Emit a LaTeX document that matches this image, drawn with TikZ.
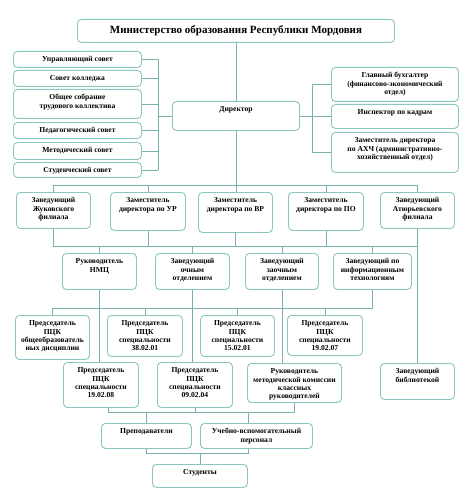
\documentclass[tikz,border=0pt]{standalone}
\usepackage{fontspec}
\setmainfont{Liberation Serif}
\definecolor{boxc}{RGB}{140,198,192}
\definecolor{linec}{RGB}{120,178,172}
\tikzset{
  box/.style={draw=boxc, line width=0.9pt, rounded corners=4pt, fill=white, inner sep=0pt},
  txt/.style={font=\fontsize{7.6}{8.4}\selectfont\bfseries, align=center, inner sep=0pt, text=black},
  conn/.style={draw=linec, line width=0.85pt},
}
\newcommand\mybox[6]{%
  \pgfmathsetmacro\bw{#4-#2}\pgfmathsetmacro\bh{#5-#3}%
  \node[box, anchor=north west, minimum width=\bw pt, minimum height=\bh pt] (#1) at (#2,#3) {};
  \node[txt, anchor=north] (#1t) at ([yshift=-4.5pt]#1.north) {\rule{0pt}{6pt}#6};
}
\begin{document}
\begin{tikzpicture}[x=1pt,y=-1pt]
\useasboundingbox (0,0) rectangle (474,500);
\fill[white] (0,0) rectangle (474,500);

\node[box, anchor=north west, minimum width=317pt, minimum height=23pt,
  font=\fontsize{11}{13}\selectfont\bfseries, text=black] (min) at (77,19)
  {Министерство образования Республики Мордовия};

\mybox{us}{13}{51}{141}{67}{Управляющий совет}
\mybox{sk}{13}{70}{141}{86}{Совет колледжа}
\mybox{os}{13}{89}{141}{118}{Общее собрание\\трудового коллектива}
\mybox{ps}{13}{122}{141}{138}{Педагогический совет}
\mybox{ms}{13}{142}{141}{159}{Методический совет}
\mybox{ss}{13}{162}{141}{177}{Студенческий совет}

\mybox{dir}{172}{101}{299}{130}{Директор}

\mybox{gb}{331}{67}{458}{101}{Главный бухгалтер\\(финансово-экономический\\отдел)}
\mybox{ik}{331}{104}{458}{128}{Инспектор по кадрам}
\mybox{ax}{331}{132}{458}{172}{Заместитель директора\\по АХЧ (административно-\\хозяйственный отдел)}

\mybox{zh}{16}{192}{90}{228}{Заведующий\\Жуковского\\филиала}
\mybox{ur}{110}{192}{185}{230}{Заместитель\\директора по УР}
\mybox{vr}{198}{192}{272}{232}{Заместитель\\директора по ВР}
\mybox{po}{288}{192}{363}{230}{Заместитель\\директора по ПО}
\mybox{at}{380}{192}{454}{228}{Заведующий\\Атюрьевского\\филиала}

\mybox{nmc}{62}{253}{136}{289}{Руководитель\\НМЦ}
\mybox{och}{155}{253}{229}{289}{Заведующий\\очным\\отделением}
\mybox{zao}{245}{253}{318}{289}{Заведующий\\заочным\\отделением}
\mybox{it}{333}{253}{411}{289}{Заведующий по\\информационным\\технологиям}

\mybox{ob}{15}{315}{89}{359}{Председатель\\ПЦК\\общеобразователь\\ных дисциплин}
\mybox{sa}{107}{315}{182}{356}{Председатель\\ПЦК\\специальности\\38.02.01}
\mybox{sb}{200}{315}{274}{356}{Председатель\\ПЦК\\специальности\\15.02.01}
\mybox{sc}{287}{315}{362}{355}{Председатель\\ПЦК\\специальности\\19.02.07}

\mybox{sd}{63}{362}{138}{407}{Председатель\\ПЦК\\специальности\\19.02.08}
\mybox{se}{157}{362}{232}{407}{Председатель\\ПЦК\\специальности\\09.02.04}
\mybox{mk}{247}{363}{341}{402}{Руководитель\\методической комиссии\\классных\\руководителей}
\mybox{lib}{380}{363}{454}{399}{Заведующий\\библиотекой}

\mybox{pr}{101}{423}{191}{448}{Преподаватели}
\mybox{uv}{200}{423}{312}{448}{Учебно-вспомогательный\\персонал}
\mybox{st}{152}{464}{247}{487}{Студенты}

% bus coordinates
\coordinate (lb) at (158,0);
\coordinate (rb) at (312,0);
\coordinate (b1) at (0,185);
\coordinate (b2) at (0,246);
\coordinate (b3) at (0,308);
\coordinate (b4) at (0,412);
\coordinate (b5) at (0,453);

% ministry - director
\draw[conn] (min.south) -- (min.south |- dir.north);

% left councils
\foreach \n in {us,sk,os,ps,ms,ss} \draw[conn] (\n.east) -- (\n.east -| lb);
\draw[conn] (us.east -| lb) -- (ss.east -| lb);
\draw[conn] (dir.west) -- (dir.west -| lb);

% right units
\draw[conn] (dir.east) -- (dir.east -| rb);
\foreach \n in {gb,ik,ax} \draw[conn] (\n.west) -- (\n.west -| rb);
\draw[conn] (gb.west -| rb) -- (ax.west -| rb);

% director to row 2
\draw[conn] (dir.south) -- (dir.south |- vr.north);
\draw[conn] (zh.north) -- (zh.north |- b1) -- (at.north |- b1) -- (at.north);
\foreach \n in {ur,po} \draw[conn] (\n.north) -- (\n.north |- b1);

% row 2 to row 3
\draw[conn] (zh.south) -- (zh.south |- b2) -- (at.south |- b2);
\foreach \n in {ur,vr,po} \draw[conn] (\n.south) -- (\n.south |- b2);
\foreach \n in {nmc,och,zao,it} \draw[conn] (\n.north) -- (\n.north |- b2);
\draw[conn] (at.south) -- (lib.north);

% row 3 down
\draw[conn] (nmc.south) -- (nmc.south |- sd.north);
\draw[conn] (och.south) -- (och.south |- se.north);
\draw[conn] (zao.south) -- (zao.south |- mk.north);
\draw[conn] (it.south) -- (it.south |- b3) -- (ob.north |- b3) -- (ob.north);
\foreach \n in {sa,sb,sc} \draw[conn] (\n.north) -- (\n.north |- b3);

% row 5 to row 6
\draw[conn] ([xshift=7pt]sd.south) -- ([xshift=7pt]sd.south |- b4) -- (mk.south |- b4) -- (mk.south);
\draw[conn] (se.south) -- (se.south |- b4);
\draw[conn] (pr.north) -- (pr.north |- b4);
\draw[conn] ([xshift=-8pt]uv.north) -- ([xshift=-8pt]uv.north |- b4);

% row 6 to students
\draw[conn] (pr.south) -- (pr.south |- b5) -- ([xshift=-8pt]uv.south |- b5) -- ([xshift=-8pt]uv.south);
\draw[conn] (st.north) -- (st.north |- b5);
\end{tikzpicture}
\end{document}
